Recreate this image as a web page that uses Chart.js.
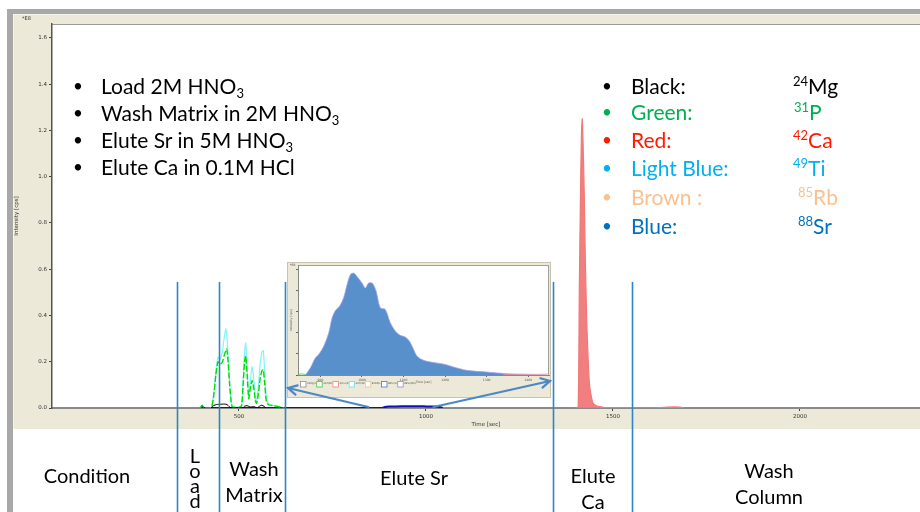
<!DOCTYPE html>
<html><head><meta charset="utf-8">
<script src="https://cdn.jsdelivr.net/npm/chart.js@4.4.0/dist/chart.umd.min.js"></script>
<style>
html,body{margin:0;padding:0;background:#fff;}
#wrap{position:relative;width:920px;height:512px;overflow:hidden;font-family:Lato,'Noto Sans',sans-serif;}
canvas{position:absolute;}
#main{left:0;top:0;width:920px;height:512px;}
#inset{left:287px;top:262px;width:264px;height:136px;}
#over{left:0;top:0;width:920px;height:512px;pointer-events:none;}
.t{position:absolute;white-space:nowrap;line-height:1;}
.s{font-size:21px;}
.b{font-size:17px;}
.p{font-size:20px;line-height:26px;text-align:center;transform:translateX(-50%);}
sub{font-size:0.62em;vertical-align:-0.28em;line-height:0;}
sup{font-size:0.62em;vertical-align:0.6em;line-height:0;}
</style></head><body>
<div id="wrap">
<canvas id="main" width="920" height="512"></canvas>
<canvas id="inset" width="264" height="136"></canvas>
<canvas id="over" width="920" height="512"></canvas>

<div class="t" style="left:22px;top:16px;font-size:5px;font-family:'DejaVu Sans';color:#333">*E8</div>

<div class="t b" style="left:73px;top:77px">•</div><div class="t s" style="left:101px;top:75px">Load 2M HNO<sub>3</sub></div>
<div class="t b" style="left:73px;top:104px">•</div><div class="t s" style="left:101px;top:102px">Wash Matrix in 2M HNO<sub>3</sub></div>
<div class="t b" style="left:73px;top:131px">•</div><div class="t s" style="left:101px;top:129px">Elute Sr in 5M HNO<sub>3</sub></div>
<div class="t b" style="left:73px;top:158px">•</div><div class="t s" style="left:101px;top:156px">Elute Ca in 0.1M HCl</div>

<div class="t b" style="left:602px;top:77px;color:#000">•</div><div class="t s" style="left:631px;top:75px;color:#000">Black:</div><div class="t s" style="left:793px;top:75px;color:#000"><sup>24</sup>Mg</div>
<div class="t b" style="left:602px;top:103px;color:#00b050">•</div><div class="t s" style="left:631px;top:101px;color:#00b050">Green:</div><div class="t s" style="left:794px;top:101px;color:#00b050"><sup>31</sup>P</div>
<div class="t b" style="left:602px;top:131px;color:#ff1a00">•</div><div class="t s" style="left:631px;top:129px;color:#ff1a00">Red:</div><div class="t s" style="left:793px;top:129px;color:#ff1a00"><sup>42</sup>Ca</div>
<div class="t b" style="left:602px;top:159px;color:#00b0f0">•</div><div class="t s" style="left:631px;top:157px;color:#00b0f0">Light Blue:</div><div class="t s" style="left:793px;top:157px;color:#00b0f0"><sup>49</sup>Ti</div>
<div class="t b" style="left:602px;top:188px;color:#fac090">•</div><div class="t s" style="left:631px;top:186px;color:#fac090">Brown :</div><div class="t s" style="left:798px;top:186px;color:#fac090"><sup>85</sup>Rb</div>
<div class="t b" style="left:602px;top:217px;color:#0070c0">•</div><div class="t s" style="left:631px;top:215px;color:#0070c0">Blue:</div><div class="t s" style="left:798px;top:215px;color:#0070c0"><sup>88</sup>Sr</div>

<div class="t p" style="left:87px;top:462px">Condition</div>
<div class="t" style="left:185px;top:448px;width:20px;font-size:20px;line-height:15px;text-align:center">L<br>o<br>a<br>d</div>
<div class="t p" style="left:254px;top:455px">Wash<br>Matrix</div>
<div class="t p" style="left:414px;top:464px">Elute Sr</div>
<div class="t p" style="left:593px;top:462px">Elute<br>Ca</div>
<div class="t p" style="left:769px;top:457px">Wash<br>Column</div>
</div>

<script>
// ===== DATA =====
const xTickValues = [500, 1000, 1500, 2000];
const yTickValues = [0, 0.2, 0.4, 0.6, 0.8, 1.0, 1.2, 1.4, 1.6];
const phaseBoundaries = [334, 447, 623, 1340, 1551];
const phaseLineTop = 0.545;
const zoomRange = [846, 1020];

const mgTimes  = [425, 432, 440, 450, 460, 468, 474, 480, 510, 515, 522, 530, 536, 542, 548, 555, 561, 567, 572];
const mgValues = [0, 0.010, 0.015, 0.016, 0.017, 0.015, 0.006, 0, 0, 0.008, 0.010, 0.004, 0.006, 0.005, 0, 0.008, 0.012, 0.007, 0];

const pTimes  = [396, 402, 407, 420, 427, 433, 438, 444, 450, 456, 461, 467, 471, 475, 479, 482, 490, 500, 507, 511, 515, 518, 522, 526, 530, 535, 540, 544, 547, 551, 556, 561, 565, 569, 573, 578, 590, 605, 620];
const pValues = [0, 0.012, 0, 0, 0.004, 0.06, 0.14, 0.20, 0.19, 0.20, 0.23, 0.255, 0.20, 0.10, 0.03, 0.005, 0.003, 0.003, 0.01, 0.10, 0.20, 0.225, 0.14, 0.04, 0.08, 0.119, 0.08, 0.03, 0.02, 0.05, 0.12, 0.16, 0.165, 0.10, 0.03, 0.015, 0.010, 0.006, 0];

const caTimes  = [1400, 1407, 1410, 1414, 1416, 1418, 1420, 1423, 1426, 1430, 1434, 1437, 1442, 1447, 1455, 1465, 1474, 1480, 1600, 1645, 1680, 1690];
const caValues = [0, 0.005, 0.51, 1.016, 1.20, 1.25, 1.15, 0.944, 0.65, 0.367, 0.20, 0.107, 0.05, 0.02, 0.01, 0.006, 0.003, 0.002, 0, 0.004, 0.004, 0];

const tiTimes  = [420, 427, 433, 438, 444, 450, 456, 461, 465, 469, 474, 478, 481, 490, 500, 507, 511, 515, 518, 522, 526, 530, 535, 540, 544, 547, 551, 556, 561, 565, 569, 573, 578, 590, 605, 620];
const tiValues = [0, 0.005, 0.07, 0.16, 0.22, 0.21, 0.25, 0.31, 0.342, 0.28, 0.14, 0.04, 0.005, 0.003, 0.003, 0.01, 0.12, 0.24, 0.281, 0.17, 0.05, 0.11, 0.179, 0.12, 0.04, 0.027, 0.08, 0.18, 0.24, 0.248, 0.15, 0.05, 0.02, 0.012, 0.008, 0];

const srTimes  = [398, 402, 406, 880, 890, 900, 920, 950, 980, 1000, 1020, 1037, 1045];
const srValues = [0, 0.005, 0, 0, 0.004, 0.006, 0.007, 0.008, 0.008, 0.007, 0.006, 0.004, 0];

// inset (zoom of the Sr elution)
const insetXTicks = [900, 1000, 1100, 1200, 1300, 1400];
const insetYTicks = [0, 1, 2, 3, 4, 5];
const insetSrTimes  = [864, 876, 888, 896, 908, 920, 928, 936, 946, 956, 964, 972, 980, 988, 1000, 1008, 1016, 1025, 1034, 1044, 1056, 1068, 1080, 1092, 1104, 1114, 1124, 1132, 1144, 1156, 1176, 1200, 1220, 1252, 1300, 1348, 1396, 1444];
const insetSrValues = [0, 0.34, 0.81, 0.97, 1.36, 1.99, 2.69, 3.04, 3.24, 3.66, 4.26, 4.73, 4.81, 4.65, 4.34, 4.10, 4.34, 4.33, 3.95, 3.17, 3.09, 2.47, 2.08, 1.87, 1.79, 1.60, 1.21, 0.90, 0.73, 0.65, 0.58, 0.50, 0.38, 0.22, 0.14, 0.06, 0.01, 0];
const insetCaTimes  = [1340, 1380, 1420, 1450];
const insetCaValues = [0.02, 0.04, 0.03, 0.05];
const insetPTimes   = [847, 855, 864];
const insetPValues  = [0.03, 0.05, 0.02];
const insetLegendLabels = ['24Mg(LR)', '31P(MR)', '42Ca(MR)', '49Ti(MR)', '85Rb(LR)', '88Sr(LR)', '88Sr(MR)'];

// ===== STYLE =====
const C = {
  mg: '#000000', p: '#00dd00', ca: '#f07878', caFill: 'rgba(240,120,120,0.95)', ti: '#80f4f8', sr: '#1010b0',
  beige: '#ece9d8', frame: '#a8a8a8', vline: '#2a86c6', arrow: '#4a88c8', insetFill: '#5890cc'
};
const insetLegendColors = ['#909090', '#40c040', '#f08080', '#60e0f0', '#f0c090', '#5070e0', '#a080e0'];
const zip = (xs, ys) => xs.map((x, i) => ({x, y: ys[i]}));

const tickFont = {family: 'DejaVu Sans', size: 5.5};

const bgPlugin = {
  id: 'bg',
  beforeDraw(chart) {
    const {ctx, chartArea: a, width, height} = chart;
    ctx.save();
    ctx.fillStyle = '#fff'; ctx.fillRect(0, 0, width, height);
    ctx.fillStyle = C.frame;
    ctx.fillRect(7, 9, width - 7, 5);
    ctx.fillRect(7, 9, 6, height - 9);
    ctx.fillStyle = C.beige; ctx.fillRect(13, 14, width - 13, 415);
    ctx.fillStyle = '#f6f4ea'; ctx.fillRect(13, 14, 1, 415); ctx.fillRect(13, 14, width - 13, 1);
    ctx.fillStyle = '#fff'; ctx.fillRect(a.left, a.top, a.right - a.left, a.bottom - a.top);
    ctx.strokeStyle = '#9a9a9a'; ctx.lineWidth = 1;
    ctx.beginPath(); ctx.moveTo(a.left, a.top + 0.5); ctx.lineTo(a.right, a.top + 0.5); ctx.stroke();
    ctx.restore();
  },
  afterDraw(chart) {
    const {ctx, scales: {x, y}, height} = chart;
    ctx.save();
    ctx.strokeStyle = C.vline; ctx.lineWidth = 1.6;
    const top = y.getPixelForValue(phaseLineTop);
    phaseBoundaries.forEach(t => {
      const px = Math.round(x.getPixelForValue(t)) + 0.5;
      ctx.beginPath(); ctx.moveTo(px, top); ctx.lineTo(px, height); ctx.stroke();
    });
    ctx.restore();
  }
};

const mainChart = new Chart(document.getElementById('main'), {
  type: 'line',
  data: {
    datasets: [
      {label: '24Mg', data: zip(mgTimes, mgValues), borderColor: C.mg, borderWidth: 1},
      {label: '31P', data: zip(pTimes, pValues), borderColor: C.p, borderWidth: 1.4, borderDash: [6, 2]},
      {label: '88Sr', data: zip(srTimes, srValues), borderColor: C.sr, borderWidth: 2},
      {label: '49Ti', data: zip(tiTimes, tiValues), borderColor: C.ti, borderWidth: 1.2},
      {label: '42Ca', data: zip(caTimes, caValues), borderColor: C.ca, backgroundColor: C.caFill, borderWidth: 1.2, fill: 'origin'}
    ]
  },
  options: {
    responsive: false, animation: false,
    layout: {padding: {left: 0, top: 24, right: 0, bottom: 84}},
    elements: {point: {radius: 0}, line: {tension: 0.2}},
    plugins: {legend: {display: false}, tooltip: {enabled: false}},
    scales: {
      x: {
        type: 'linear', min: 0, max: 2321,
        afterBuildTicks: s => { s.ticks = xTickValues.map(v => ({value: v})); },
        afterFit: s => { s.height = 20; },
        ticks: {font: tickFont, color: '#333', padding: 2, maxRotation: 0, callback: v => String(v)},
        grid: {display: true, drawOnChartArea: false, drawTicks: true, tickLength: 3, color: '#444'},
        border: {color: '#8a8a8a', width: 2},
        title: {display: true, text: 'Time [sec]', font: tickFont, color: '#333', padding: {top: 0, bottom: 0}}
      },
      y: {
        min: 0, max: 1.66,
        afterBuildTicks: s => { s.ticks = yTickValues.map(v => ({value: v})); },
        afterFit: s => { s.width = 52; },
        ticks: {font: tickFont, color: '#333', padding: 2, callback: v => v.toFixed(1)},
        grid: {display: true, drawOnChartArea: false, drawTicks: true, tickLength: 3, color: '#444'},
        border: {color: '#555', width: 1.5},
        title: {display: true, text: 'Intensity [cps]', font: tickFont, color: '#333', padding: {top: 13, bottom: 0}}
      }
    }
  },
  plugins: [bgPlugin]
});

// ===== INSET =====
const insetBg = {
  id: 'insetBg',
  beforeDraw(chart) {
    const {ctx, chartArea: a, width, height} = chart;
    ctx.save();
    ctx.fillStyle = C.beige; ctx.fillRect(0, 0, width, height);
    ctx.strokeStyle = '#c8c4b0'; ctx.lineWidth = 1; ctx.strokeRect(0.5, 0.5, width - 1, height - 1);
    ctx.fillStyle = '#fff'; ctx.fillRect(a.left, a.top, a.right - a.left, a.bottom - a.top);
    ctx.strokeStyle = '#a0a0a0'; ctx.strokeRect(a.left + 0.5, a.top + 0.5, a.right - a.left - 1, a.bottom - a.top);
    ctx.fillStyle = '#444'; ctx.font = "3px 'DejaVu Sans'"; ctx.fillText('*E6', 3, 4);
    ctx.restore();
  },
  afterDraw(chart) {
    const {ctx} = chart;
    ctx.save();
    ctx.font = "2.5px 'DejaVu Sans'"; ctx.textBaseline = 'middle';
    insetLegendLabels.forEach((lab, i) => {
      const bx = 13 + i * 16.2, by = 119;
      ctx.fillStyle = '#fff'; ctx.fillRect(bx, by, 6, 6);
      ctx.strokeStyle = insetLegendColors[i]; ctx.lineWidth = 0.8; ctx.strokeRect(bx + 0.5, by + 0.5, 5.5, 5.5);
      ctx.fillStyle = '#555'; ctx.fillText(lab, bx + 7, by + 2);
    });
    ctx.restore();
  }
};

const insetFont = {family: 'DejaVu Sans', size: 3};
const insetChart = new Chart(document.getElementById('inset'), {
  type: 'line',
  data: {
    datasets: [
      {label: '31P', data: zip(insetPTimes, insetPValues), borderColor: '#40c040', borderWidth: 0.8},
      {label: '42Ca', data: zip(insetCaTimes, insetCaValues), borderColor: '#f09090', borderWidth: 0.8},
      {label: '88Sr', data: zip(insetSrTimes, insetSrValues), borderColor: '#a8a0e8', backgroundColor: C.insetFill, borderWidth: 0.8, fill: 'origin'}
    ]
  },
  options: {
    responsive: false, animation: false,
    layout: {padding: {left: 0, top: 3, right: 2, bottom: 14}},
    elements: {point: {radius: 0}, line: {tension: 0.3}},
    plugins: {legend: {display: false}, tooltip: {enabled: false}},
    scales: {
      x: {
        type: 'linear', min: 846, max: 1450,
        afterBuildTicks: s => { s.ticks = insetXTicks.map(v => ({value: v})); },
        afterFit: s => { s.height = 9; },
        ticks: {font: insetFont, color: '#555', padding: 1, maxRotation: 0, callback: v => String(v)},
        grid: {display: true, drawOnChartArea: false, tickLength: 2, color: '#666'},
        border: {color: '#888', width: 1},
        title: {display: true, text: 'Time [sec]', font: insetFont, color: '#555', padding: {top: 0, bottom: 0}}
      },
      y: {
        min: 0, max: 5.19,
        afterBuildTicks: s => { s.ticks = insetYTicks.map(v => ({value: v})); },
        afterFit: s => { s.width = 11; },
        ticks: {display: false},
        grid: {display: true, drawOnChartArea: false, tickLength: 2, color: '#666'},
        border: {color: '#888', width: 1},
        title: {display: true, text: 'Intensity [cps]', font: insetFont, color: '#555', padding: {top: 2, bottom: 0}}
      }
    }
  },
  plugins: [insetBg]
});

// ===== ARROWS (overlay) =====
(function drawArrows() {
  const ctx = document.getElementById('over').getContext('2d');
  const xs = mainChart.scales.x, ys = mainChart.scales.y;
  const ins = document.getElementById('inset');
  const il = ins.offsetLeft, it = ins.offsetTop;
  const ends = [[il + 1, it + 126], [il + 263, it + 119]];
  ctx.strokeStyle = C.arrow; ctx.lineWidth = 2.2; ctx.lineCap = 'round';
  zoomRange.forEach((t, i) => {
    const sx = xs.getPixelForValue(t), sy = ys.getPixelForValue(0) - 1;
    const [ex, ey] = ends[i];
    const ang = Math.atan2(ey - sy, ex - sx);
    ctx.beginPath(); ctx.moveTo(sx, sy); ctx.lineTo(ex, ey); ctx.stroke();
    const L = 10;
    ctx.beginPath();
    ctx.moveTo(ex - L * Math.cos(ang - 0.5), ey - L * Math.sin(ang - 0.5));
    ctx.lineTo(ex, ey);
    ctx.lineTo(ex - L * Math.cos(ang + 0.5), ey - L * Math.sin(ang + 0.5));
    ctx.stroke();
  });
})();
</script>
</body></html>
